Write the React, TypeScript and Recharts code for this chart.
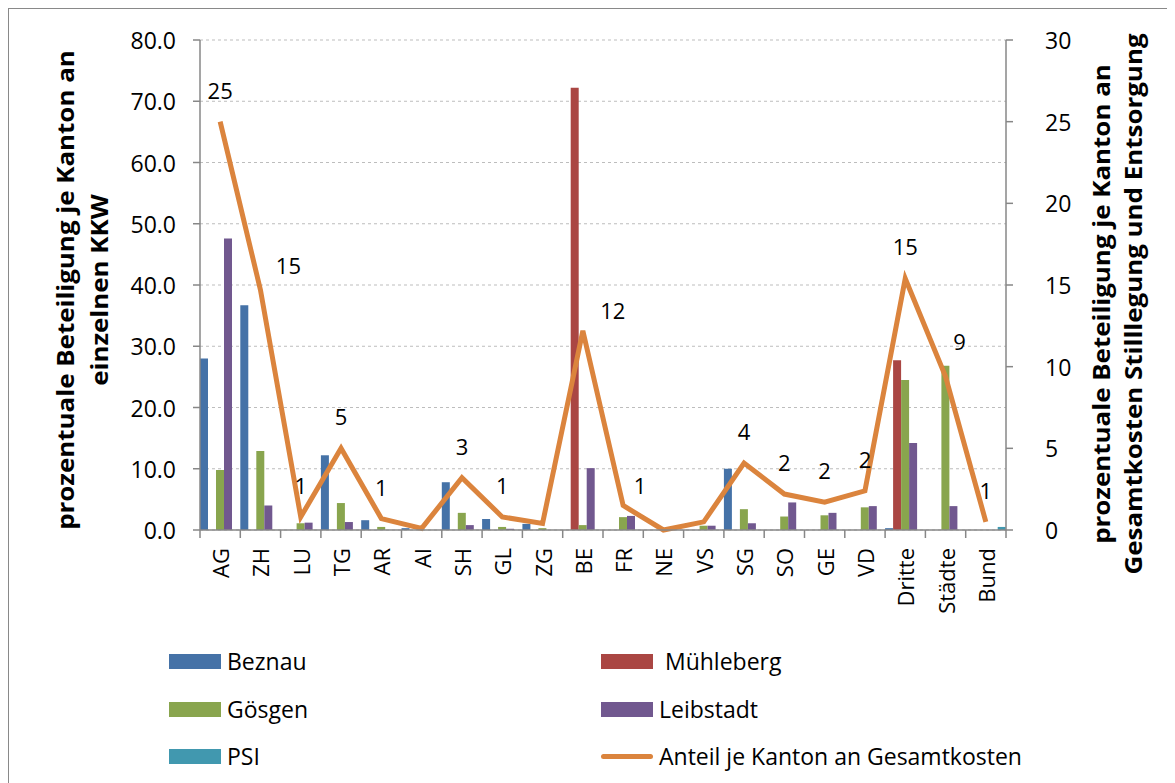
import React from 'react';
import { ComposedChart, Bar, Line, XAxis, YAxis, CartesianGrid, LabelList } from 'recharts';

const categories = ['AG', 'ZH', 'LU', 'TG', 'AR', 'AI', 'SH', 'GL', 'ZG', 'BE', 'FR', 'NE', 'VS', 'SG', 'SO', 'GE', 'VD', 'Dritte', 'Städte', 'Bund'];
const beznau = [28.0, 36.7, 0, 12.2, 1.6, 0.3, 7.8, 1.8, 1.0, 0, 0, 0, 0, 10.0, 0, 0, 0, 0.3, 0, 0];
const muehleberg = [0, 0, 0, 0, 0, 0, 0, 0, 0, 72.2, 0, 0, 0, 0, 0, 0, 0, 27.7, 0, 0];
const goesgen = [9.8, 12.9, 1.1, 4.4, 0.5, 0, 2.8, 0.5, 0.3, 0.8, 2.1, 0, 0.7, 3.4, 2.2, 2.4, 3.7, 24.5, 26.8, 0];
const leibstadt = [47.6, 4.0, 1.2, 1.3, 0, 0, 0.8, 0.2, 0, 10.1, 2.3, 0, 0.7, 1.1, 4.5, 2.8, 3.9, 14.2, 3.9, 0];
const psi = [0, 0, 0, 0, 0, 0, 0, 0, 0, 0, 0, 0, 0, 0, 0, 0, 0, 0, 0, 0.5];
const anteil = [25.0, 14.7, 0.8, 5.0, 0.7, 0.1, 3.2, 0.8, 0.4, 12.2, 1.5, 0.0, 0.5, 4.1, 2.2, 1.7, 2.4, 15.4, 9.4, 0.5];
const anteilLabels = ['25', '15', '1', '5', '1', '', '3', '1', '', '12', '1', '', '', '4', '2', '2', '2', '15', '9', '1'];
const leftTicks = [0, 10, 20, 30, 40, 50, 60, 70, 80];
const rightTicks = [0, 5, 10, 15, 20, 25, 30];

const barSeries = [
  { key: 'beznau', name: 'Beznau', color: '#4572A7' },
  { key: 'muehleberg', name: 'Mühleberg', color: '#AA4643' },
  { key: 'goesgen', name: 'Gösgen', color: '#89A54E' },
  { key: 'leibstadt', name: 'Leibstadt', color: '#71588F' },
  { key: 'psi', name: 'PSI', color: '#4198AF' },
];
const lineColor = '#DB843D';

const data = categories.map((c, i) => ({
  cat: c,
  beznau: beznau[i],
  muehleberg: muehleberg[i],
  goesgen: goesgen[i],
  leibstadt: leibstadt[i],
  psi: psi[i],
  anteil: anteil[i],
  label: anteilLabels[i],
}));

const FONT = '"Open Sans", "DejaVu Sans", sans-serif';
const AXIS = '#878787';
const CHART_W = 1166;
const CHART_H = 640;
const PLOT_LEFT = 191;
const PLOT_RIGHT = 997;
const PLOT_TOP = 31;
const PLOT_BOTTOM = 521;
const BAND = (PLOT_RIGHT - PLOT_LEFT) / categories.length;

const labelShift: Record<string, { dx: number; dy: number }> = {
  ZH: { dx: 28, dy: -25 },
  BE: { dx: 30, dy: -21 },
  FR: { dx: 17, dy: -21 },
  'Städte': { dx: 14, dy: -35 },
};

const XTick = (props: any) => {
  const { x, y, payload, index } = props;
  const left = x - BAND / 2;
  const isLast = payload.index === categories.length - 1 || index === categories.length - 1;
  return (
    <g>
      <line x1={left} x2={left} y1={y} y2={y + 8} stroke={AXIS} strokeWidth={1.5} />
      {isLast && <line x1={x + BAND / 2} x2={x + BAND / 2} y1={y} y2={y + 8} stroke={AXIS} strokeWidth={1.5} />}
      <text
        transform={`translate(${x}, ${y + 18}) rotate(-90)`}
        textAnchor="end"
        dominantBaseline="central"
        fontFamily={FONT}
        fontSize={22}
        fill="#000"
      >
        {payload.value}
      </text>
    </g>
  );
};

const LeftTick = (props: any) => {
  const { x, y, payload } = props;
  return (
    <text x={x} y={y} textAnchor="end" dominantBaseline="central" fontFamily={FONT} fontSize={23} fill="#000">
      {Number(payload.value).toFixed(1)}
    </text>
  );
};

const RightTick = (props: any) => {
  const { x, y, payload } = props;
  return (
    <text x={x} y={y} textAnchor="start" dominantBaseline="central" fontFamily={FONT} fontSize={23} fill="#000">
      {payload.value}
    </text>
  );
};

const AnteilLabel = (props: any) => {
  const { x, y, value, index } = props;
  if (!value) return null;
  const cat = categories[index];
  const sh = labelShift[cat] || { dx: 0, dy: -32 };
  return (
    <text x={x + sh.dx} y={y + sh.dy} textAnchor="middle" dominantBaseline="central" fontFamily={FONT} fontSize={22} fill="#000">
      {value}
    </text>
  );
};

const LeftTitle = () => (
  <g fontFamily={FONT} fontWeight="bold" fontSize={24} fill="#000">
    <text transform={`translate(${55}, ${281}) rotate(-90) scale(1.08, 1)`} textAnchor="middle" dominantBaseline="central">
      prozentuale Beteiligung je Kanton an
    </text>
    <text transform={`translate(${89}, ${281}) rotate(-90) scale(1.08, 1)`} textAnchor="middle" dominantBaseline="central">
      einzelnen KKW
    </text>
  </g>
);

const RightTitle = () => (
  <g fontFamily={FONT} fontWeight="bold" fontSize={24} fill="#000">
    <text transform={`translate(${1091}, ${295}) rotate(-90) scale(1.08, 1)`} textAnchor="middle" dominantBaseline="central">
      prozentuale Beteiligung je Kanton an
    </text>
    <text transform={`translate(${1123}, ${295}) rotate(-90) scale(1.08, 1)`} textAnchor="middle" dominantBaseline="central">
      Gesamtkosten Stilllegung und Entsorgung
    </text>
  </g>
);

const legendItems = [
  { name: 'Beznau', color: barSeries[0].color, type: 'bar', col: 0, row: 0 },
  { name: ' Mühleberg', color: barSeries[1].color, type: 'bar', col: 1, row: 0 },
  { name: 'Gösgen', color: barSeries[2].color, type: 'bar', col: 0, row: 1 },
  { name: 'Leibstadt', color: barSeries[3].color, type: 'bar', col: 1, row: 1 },
  { name: 'PSI', color: barSeries[4].color, type: 'bar', col: 0, row: 2 },
  { name: 'Anteil je Kanton an Gesamtkosten', color: lineColor, type: 'line', col: 1, row: 2 },
];

export default function App() {
  return (
    <div
      style={{
        position: 'relative',
        width: 1167,
        height: 775,
        boxSizing: 'border-box',
        borderLeft: '1px solid #898989',
        borderTop: '1px solid #898989',
        background: '#fff',
        overflow: 'hidden',
      }}
    >
      <ComposedChart
        width={CHART_W}
        height={CHART_H}
        data={data}
        margin={{ top: PLOT_TOP, right: 0, left: 0, bottom: 0 }}
        barCategoryGap={0}
        barGap={0}
      >
        <CartesianGrid yAxisId="left" vertical={false} stroke="#BDBDBD" strokeDasharray="3 3" />
        <XAxis
          dataKey="cat"
          height={CHART_H - PLOT_BOTTOM}
          axisLine={{ stroke: AXIS, strokeWidth: 1.5 }}
          tickLine={false}
          tickSize={0}
          tickMargin={0}
          interval={0}
          tick={<XTick />}
        />
        <YAxis
          yAxisId="left"
          orientation="left"
          width={PLOT_LEFT}
          domain={[0, 80]}
          ticks={leftTicks}
          interval={0}
          axisLine={{ stroke: AXIS, strokeWidth: 1.5 }}
          tickLine={{ stroke: AXIS, strokeWidth: 1.5 }}
          tickSize={7}
          tickMargin={17}
          tick={<LeftTick />}
          label={<LeftTitle />}
        />
        <YAxis
          yAxisId="right"
          orientation="right"
          width={CHART_W - PLOT_RIGHT}
          domain={[0, 30]}
          ticks={rightTicks}
          interval={0}
          axisLine={{ stroke: AXIS, strokeWidth: 1.5 }}
          tickLine={{ stroke: AXIS, strokeWidth: 1.5 }}
          tickSize={7}
          tickMargin={32}
          tick={<RightTick />}
          label={<RightTitle />}
        />
        {barSeries.map((s) => (
          <Bar key={s.key} yAxisId="left" dataKey={s.key} name={s.name} fill={s.color} isAnimationActive={false} />
        ))}
        <Line
          yAxisId="right"
          type="linear"
          dataKey="anteil"
          name="Anteil je Kanton an Gesamtkosten"
          stroke={lineColor}
          strokeWidth={5}
          strokeLinejoin="miter"
          dot={false}
          activeDot={false}
          isAnimationActive={false}
        >
          <LabelList dataKey="label" content={<AnteilLabel />} />
        </Line>
      </ComposedChart>
      {legendItems.map((it) => {
        const top = [651, 699, 746][it.row] - 9;
        const swLeft = it.col === 0 ? 160 : 592;
        return (
          <div
            key={it.name}
            style={{ position: 'absolute', left: swLeft, top: top, height: 20, display: 'flex', alignItems: 'center' }}
          >
            {it.type === 'bar' ? (
              <div style={{ width: 52, height: 15, background: it.color }} />
            ) : (
              <div style={{ width: 52, height: 5, borderRadius: 3, background: it.color }} />
            )}
            <span
              style={{
                marginLeft: 6,
                fontFamily: FONT,
                fontSize: 23,
                color: '#000',
                whiteSpace: 'pre',
                lineHeight: '20px',
              }}
            >
              {it.name}
            </span>
          </div>
        );
      })}
    </div>
  );
}
